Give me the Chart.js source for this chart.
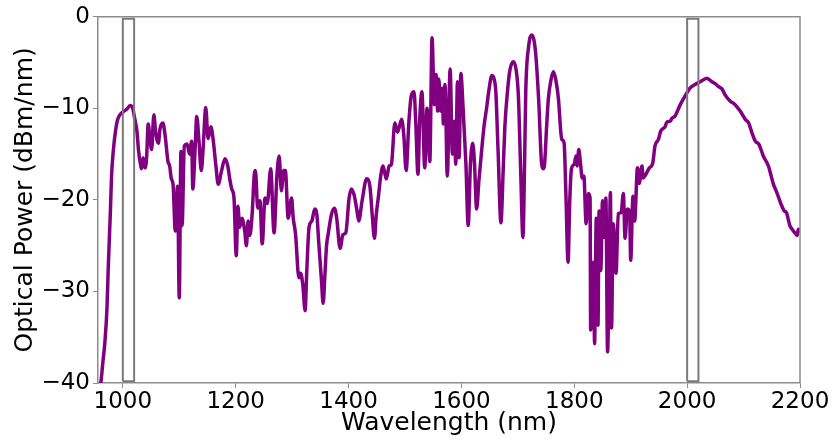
<!DOCTYPE html>
<html>
<head>
<meta charset="utf-8">
<script src="https://cdn.jsdelivr.net/npm/chart.js@4"></script>
<style>
  body { margin: 0; background: #fff; }
</style>
</head>
<body>
<canvas id="myChart" width="833" height="442"></canvas>
<script>
// spectrum
var wavelength = [959,961,965,968,972,974,978,980,983,987,991,998,1007,1013,1017,1021,1025,1028,1031,1033,
  1036,1039,1042,1045,1048,1051,1055,1058,1063,1066,1071,1075,1080,1083,1086,1089,1093,1097,1100,1103,
  1105,1109,1114,1118,1122,1124,1128,1131,1135,1139,1142,1147,1151,1156,1160,1165,1169,1175,1181,1186,
  1190,1193,1197,1201,1204,1207,1211,1216,1219,1222,1225,1229,1233,1235,1239,1243,1247,1252,1256,1262,
  1268,1273,1277,1281,1285,1288,1293,1299,1302,1306,1312,1315,1319,1323,1326,1330,1335,1340,1344,1347,
  1352,1355,1358,1361,1364,1370,1375,1379,1385,1390,1395,1401,1405,1410,1415,1418,1424,1432,1438,1442,
  1446,1449,1453,1457,1461,1464,1467,1472,1476,1482,1487,1494,1498,1502,1507,1511,1516,1519,1523,1526,
  1530,1535,1539,1544,1548,1552,1555,1558,1560,1563,1566,1568,1571,1575,1580,1584,1587,1590,1593,1596,
  1599,1603,1608,1612,1616,1620,1623,1627,1631,1636,1640,1645,1649,1654,1658,1661,1665,1670,1674,1677,
  1682,1686,1692,1697,1701,1705,1709,1712,1714,1719,1725,1729,1732,1737,1742,1745,1747,1751,1754,1759,
  1763,1767,1772,1776,1778,1782,1785,1789,1792,1795,1800,1803,1805,1808,1811,1814,1817,1821,1825,1828,
  1829,1831,1834,1836,1839,1842,1844,1847,1850,1853,1856,1859,1862,1864,1866,1869,1874,1878,1883,1887,
  1890,1894,1898,1900,1904,1907,1912,1915,1920,1922,1927,1933,1939,1943,1949,1953,1961,1964,1970,1973,
  1979,1987,1996,2005,2014,2023,2035,2044,2050,2055,2062,2067,2076,2085,2094,2103,2109,2115,2121,2127,
  2135,2144,2149,2153,2159,2163,2168,2172,2176,2182,2186,2191,2195,2197,2200];

var power = [-40.8,-40.0,-37.5,-35.7,-31.7,-27.7,-21.2,-17.4,-14.7,-12.5,-11.2,-10.5,-10.1,-9.7,-9.9,-11.1,-12.5,-14.7,-16.0,-16.6,
  -15.4,-16.5,-15.5,-11.7,-13.3,-14.5,-10.7,-12.5,-13.8,-12.2,-11.6,-13.0,-15.8,-16.3,-17.7,-18.3,-23.4,-18.5,-30.7,-14.7,
  -22.8,-14.1,-13.9,-15.0,-13.6,-18.8,-14.5,-10.9,-13.6,-16.8,-14.7,-9.9,-13.3,-12.0,-13.4,-16.3,-18.3,-16.8,-15.5,-16.3,
  -17.9,-18.8,-19.8,-26.1,-20.7,-23.0,-22.0,-23.4,-25.0,-22.3,-23.9,-21.7,-17.2,-16.8,-20.9,-20.1,-24.8,-19.8,-20.4,-16.6,
  -23.6,-17.4,-15.2,-19.0,-16.8,-16.8,-22.0,-19.8,-22.0,-23.7,-28.5,-28.0,-29.3,-32.1,-27.7,-23.0,-22.3,-21.0,-21.7,-24.5,
  -28.8,-31.3,-28.3,-25.0,-23.7,-21.5,-20.9,-22.0,-25.3,-23.8,-23.6,-19.8,-18.8,-19.5,-21.2,-22.3,-20.1,-17.7,-18.6,-21.7,
  -24.2,-21.7,-19.6,-17.4,-16.3,-17.0,-17.7,-16.3,-16.1,-11.6,-12.6,-11.2,-13.0,-16.8,-11.4,-8.7,-8.2,-11.4,-17.2,-11.4,
  -8.2,-16.5,-10.0,-15.8,-2.3,-9.6,-6.3,-10.3,-6.8,-10.3,-7.8,-11.7,-7.4,-17.4,-5.7,-15.0,-11.4,-16.1,-7.1,-15.4,
  -6.2,-10.0,-16.1,-22.8,-16.1,-13.8,-15.8,-21.0,-17.9,-14.5,-12.0,-9.8,-7.9,-6.4,-6.8,-8.2,-14.7,-22.5,-16.8,-12.0,
  -7.9,-5.8,-4.9,-5.8,-8.7,-16.8,-24.1,-15.8,-8.2,-3.3,-2.0,-2.7,-4.3,-9.2,-16.0,-16.6,-16.3,-12.0,-9.0,-6.8,
  -6.0,-6.8,-9.0,-12.5,-13.4,-13.8,-19.0,-26.8,-20.1,-16.6,-16.1,-15.2,-16.3,-14.5,-16.0,-17.6,-17.4,-22.6,-19.3,-19.8,
  -34.2,-31.0,-26.8,-35.7,-22.0,-33.7,-21.2,-27.7,-20.1,-24.1,-19.8,-36.6,-26.6,-19.2,-34.0,-22.6,-28.0,-21.5,-21.4,-19.3,
  -24.2,-21.0,-21.2,-26.6,-19.6,-22.3,-16.5,-18.2,-16.3,-17.6,-17.2,-16.5,-16.0,-14.1,-13.4,-12.5,-12.0,-11.5,-11.4,-11.1,
  -10.8,-9.7,-8.7,-7.8,-7.4,-7.1,-6.7,-7.1,-7.3,-7.6,-7.9,-8.5,-9.2,-9.6,-10.3,-11.2,-11.6,-12.7,-13.6,-13.9,
  -15.2,-16.3,-17.4,-18.3,-19.2,-19.9,-20.7,-21.2,-21.4,-22.8,-23.2,-23.6,-23.9,-23.2,-23.4];

// the two marked bands (nm) and their vertical extent (dBm/nm)
var bandStart = [1000, 2000];
var bandEnd = [1020, 2020];
var bandTop = -0.2;
var bandBottom = -39.8;

var xTicks = [1000, 1200, 1400, 1600, 1800, 2000, 2200];
var yTicks = [0, -10, -20, -30, -40];
var xMin = 956, xMax = 2200;

var FONT = 'DejaVu Sans';
var GREY = '#8c8c8c';

function spectrumPoints() {
  var pts = [];
  for (var i = 0; i < wavelength.length; i++) {
    pts.push({x: wavelength[i], y: power[i]});
  }
  return pts;
}

function bandDataset(i) {
  return {
    data: [
      {x: bandStart[i], y: bandBottom}, {x: bandStart[i], y: bandTop},
      {x: bandEnd[i], y: bandTop}, {x: bandEnd[i], y: bandBottom},
      {x: bandStart[i], y: bandBottom}
    ],
    borderColor: '#7a7a7a',
    borderWidth: 2,
    pointRadius: 0,
    fill: false,
    tension: 0,
    order: 0
  };
}

// top and right spines like the original frame
var framePlugin = {
  id: 'frame',
  afterDraw: function(chart) {
    var a = chart.chartArea, ctx = chart.ctx;
    ctx.save();
    ctx.strokeStyle = GREY;
    ctx.lineWidth = 1.5;
    ctx.beginPath();
    ctx.moveTo(a.left, a.top);
    ctx.lineTo(a.right, a.top);
    ctx.lineTo(a.right, a.bottom);
    ctx.stroke();
    ctx.restore();
  }
};

var ctx = document.getElementById('myChart').getContext('2d');
var chart = new Chart(ctx, {
  type: 'line',
  data: {
    datasets: [
      bandDataset(0),
      bandDataset(1),
      {
        data: spectrumPoints(),
        borderColor: '#800080',
        borderWidth: 3.5,
        borderJoinStyle: 'round',
        borderCapStyle: 'round',
        pointRadius: 0,
        fill: false,
        cubicInterpolationMode: 'monotone',
        order: 1
      }
    ]
  },
  options: {
    responsive: false,
    animation: false,
    layout: {padding: {top: 15, right: 33, left: 0, bottom: 0}},
    plugins: {legend: {display: false}, tooltip: {enabled: false}},
    scales: {
      x: {
        type: 'linear',
        min: xMin,
        max: xMax,
        afterBuildTicks: function(scale) {
          scale.ticks = xTicks.map(function(v) { return {value: v}; });
        },
        afterFit: function(scale) { scale.height = 59; },
        grid: {drawOnChartArea: false, drawTicks: true, tickLength: 5, color: GREY},
        border: {display: true, color: GREY, width: 1.5},
        ticks: {
          color: '#000',
          font: {family: FONT, size: 23},
          padding: 0,
          maxRotation: 0,
          autoSkip: false,
          callback: function(v) { return '' + v; }
        },
        title: {
          display: true,
          text: 'Wavelength (nm)',
          color: '#000',
          font: {family: FONT, size: 25},
          padding: 4
        }
      },
      y: {
        type: 'linear',
        min: -40,
        max: 0,
        afterBuildTicks: function(scale) {
          scale.ticks = yTicks.map(function(v) { return {value: v}; });
        },
        afterFit: function(scale) { scale.width = 98; },
        grid: {drawOnChartArea: false, drawTicks: true, tickLength: 5, color: GREY},
        border: {display: true, color: GREY, width: 1.5},
        ticks: {
          color: '#000',
          font: {family: FONT, size: 23},
          padding: 3,
          callback: function(v) { return v < 0 ? '\u2212' + Math.abs(v) : '' + v; }
        },
        title: {
          display: true,
          text: 'Optical Power (dBm/nm)',
          color: '#000',
          font: {family: FONT, size: 25},
          padding: 10
        }
      }
    }
  },
  plugins: [framePlugin]
});
</script>
</body>
</html>
